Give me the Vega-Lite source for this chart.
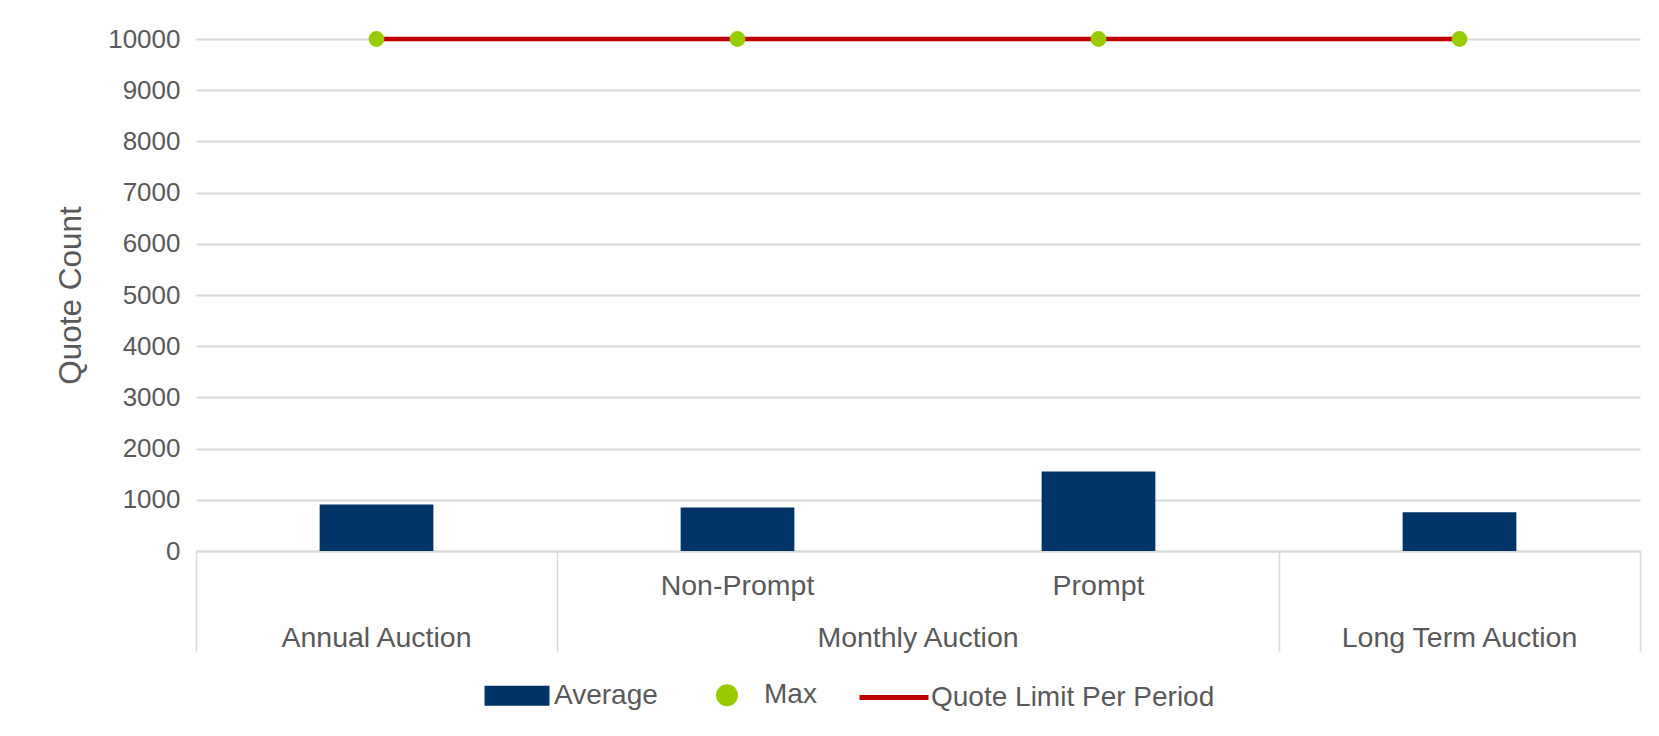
{
  "$schema": "https://vega.github.io/schema/vega-lite/v6.json",
  "width": 1444,
  "height": 512,
  "autosize": "none",
  "padding": {"left": 196, "top": 39, "right": 19, "bottom": 185},
  "background": "white",
  "config": {
    "font": "Liberation Sans",
    "view": {"stroke": null},
    "axisY": {
      "domain": false, "ticks": false, "grid": true, "gridColor": "#d9d9d9", "gridWidth": 2,
      "labelFontSize": 26, "labelColor": "#595959", "labelPadding": 16,
      "titleFontSize": 31.5, "titleFontWeight": "normal", "titleColor": "#595959", "titlePadding": 20
    }
  },
  "data": {
    "values": [
      {"key": "Annual Auction", "avg": 908, "max": 10000, "limit": 10000},
      {"key": "Non-Prompt", "avg": 850, "max": 10000, "limit": 10000},
      {"key": "Prompt", "avg": 1553, "max": 10000, "limit": 10000},
      {"key": "Long Term Auction", "avg": 758, "max": 10000, "limit": 10000}
    ]
  },
  "resolve": {"axis": {"x": "independent"}},
  "layer": [
    {
      "mark": {"type": "bar", "width": {"band": 0.315}},
      "encoding": {
        "x": {
          "field": "key", "type": "nominal",
          "sort": ["Annual Auction", "Non-Prompt", "Prompt", "Long Term Auction"],
          "scale": {"paddingInner": 0, "paddingOuter": 0},
          "axis": {
            "orient": "bottom", "title": null, "grid": false,
            "values": ["Annual Auction", "Prompt", "Long Term Auction"],
            "domain": true, "domainColor": "#d9d9d9", "domainWidth": 2,
            "ticks": true, "tickBand": "extent", "tickSize": 100, "tickWidth": 1.5, "tickColor": "#d9d9d9",
            "labels": false
          }
        },
        "y": {
          "field": "avg", "type": "quantitative", "title": "Quote Count",
          "scale": {"domain": [0, 10000], "nice": false},
          "axis": {"tickCount": 10, "format": "d"}
        },
        "color": {
          "datum": "Average",
          "scale": {
            "domain": ["Average", "Max", "Quote Limit Per Period"],
            "range": ["#003366", "#99cc00", "#c00000"]
          },
          "legend": {
            "orient": "none", "legendX": 284, "legendY": 619,
            "direction": "horizontal", "title": null, "padding": 0,
            "columnPadding": 32, "labelFontSize": 28, "labelColor": "#595959", "labelOffset": 0, "labelLimit": 0,
            "encode": {
              "symbols": {
                "update": {
                  "shape": {"signal": "datum.value === 'Average' ? 'M-0.8696,-0.2174H0.8696V0.2174H-0.8696Z' : datum.value === 'Max' ? 'M-0.2464,0A0.2464,0.2464,0,1,1,0.2464,0A0.2464,0.2464,0,1,1,-0.2464,0Z' : 'M-1,0H1'"},
                  "size": {"value": 4761},
                  "strokeWidth": {"value": 5},
                  "fill": {"signal": "datum.value === 'Quote Limit Per Period' ? 'transparent' : scale('color', datum.value)"},
                  "stroke": {"signal": "datum.value === 'Quote Limit Per Period' ? '#c00000' : 'transparent'"},
                  "opacity": {"value": 1}
                }
              }
            }
          }
        }
      }
    },
    {
      "mark": {"type": "line", "strokeWidth": 4.5},
      "encoding": {
        "x": {
          "field": "key", "type": "nominal",
          "sort": ["Annual Auction", "Non-Prompt", "Prompt", "Long Term Auction"],
          "axis": {
            "orient": "bottom", "title": null, "grid": false, "domain": false, "ticks": false,
            "labelExpr": "datum.value === 'Annual Auction' ? 'Annual Auction' : datum.value === 'Prompt' ? 'Monthly Auction' : datum.value === 'Long Term Auction' ? 'Long Term Auction' : ''",
            "labelOffset": {"condition": {"test": "datum.value === 'Prompt'", "value": -180.5}, "value": 0},
            "labelAngle": 0, "labelFontSize": 28.5, "labelColor": "#595959", "labelLimit": 0,
            "labelBaseline": "middle", "labelPadding": 86, "labelOverlap": false
          }
        },
        "y": {
          "field": "limit", "type": "quantitative", "title": "Quote Count",
          "scale": {"domain": [0, 10000], "nice": false},
          "axis": {"tickCount": 10, "format": "d"}
        },
        "color": {"datum": "Quote Limit Per Period"}
      }
    },
    {
      "mark": {"type": "point", "filled": true, "size": 250, "opacity": 1},
      "encoding": {
        "x": {
          "field": "key", "type": "nominal",
          "sort": ["Annual Auction", "Non-Prompt", "Prompt", "Long Term Auction"],
          "axis": {
            "orient": "bottom", "title": null, "grid": false, "domain": false, "ticks": false,
            "values": ["Non-Prompt", "Prompt"],
            "labelAngle": 0, "labelFontSize": 28.5, "labelColor": "#595959", "labelLimit": 0,
            "labelBaseline": "middle", "labelPadding": 34, "labelOverlap": false
          }
        },
        "y": {
          "field": "max", "type": "quantitative", "title": "Quote Count",
          "scale": {"domain": [0, 10000], "nice": false},
          "axis": {"tickCount": 10, "format": "d"}
        },
        "color": {"datum": "Max"}
      }
    }
  ]
}
